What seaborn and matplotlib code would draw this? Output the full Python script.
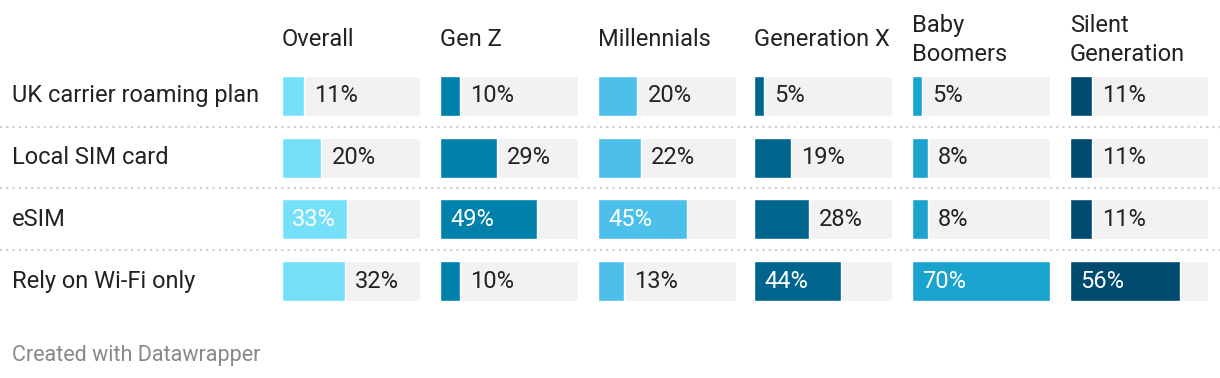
import numpy as np
import pandas as pd
import matplotlib.pyplot as plt
import seaborn as sns

# Data

options = ["UK carrier roaming plan", "Local SIM card", "eSIM", "Rely on Wi-Fi only"]
groups = ["Overall", "Gen Z", "Millennials", "Generation X", "Baby\nBoomers", "Silent\nGeneration"]

overall = [11, 20, 33, 32]
gen_z = [10, 29, 49, 10]
millennials = [20, 22, 45, 13]
gen_x = [5, 19, 28, 44]
boomers = [5, 8, 8, 70]
silent = [11, 11, 11, 56]

colors = ["#76e0fb", "#0081ab", "#4cc0eb", "#00668e", "#1aa3cf", "#00496f"]

series = [overall, gen_z, millennials, gen_x, boomers, silent]

sns.set_theme(style="white")
plt.rcParams["font.family"] = ["Roboto", "DejaVu Sans"]

W, H = 1220, 378
fig = plt.figure(figsize=(W / 100, H / 100), dpi=100)

domain = max(max(s) for s in series)
fs = 17

# Row geometry (pixels)
row_top, row_bottom = 65, 312
col_left = [282, 440, 598, 754, 912, 1070]
col_w = 138
n = len(options)

# Background axes for row labels and separators
bg = fig.add_axes([0, 1 - row_bottom / H, 1, (row_bottom - row_top) / H])
bg.set_xlim(0, W)
bg.set_ylim(n - 0.5, -0.5)
bg.axis("off")
for i in range(n - 1):
    bg.axhline(i + 0.5, color="#cccccc", linestyle=(0, (1, 2)), linewidth=1.5)
for i, opt in enumerate(options):
    bg.text(12, i, opt, ha="left", va="center", fontsize=fs, color="#222222")

for j, (grp, vals, c) in enumerate(zip(groups, series, colors)):
    ax = fig.add_axes([col_left[j] / W, 1 - row_bottom / H, col_w / W, (row_bottom - row_top) / H])
    df = pd.DataFrame({"option": options, "value": vals, "track": [domain] * n})
    sns.barplot(data=df, x="track", y="option", orient="h", color="#f2f2f2",
                width=0.645, ax=ax, saturation=1)
    sns.barplot(data=df, x="value", y="option", orient="h", color=c,
                width=0.645, ax=ax, saturation=1)
    ax.set_xlim(0, domain)
    ax.set_ylim(n - 0.5, -0.5)
    ax.axis("off")
    pad = 10 / col_w * domain
    for i, v in enumerate(vals):
        if v >= 33:
            ax.text(pad, i, f"{v}%", ha="left", va="center", fontsize=fs, color="white")
        else:
            ax.text(v + pad, i, f"{v}%", ha="left", va="center", fontsize=fs, color="#222222")
    fig.text(col_left[j] / W, 1 - 40 / H, grp, ha="left", va="center",
             fontsize=fs, color="#222222", linespacing=1.3)

fig.text(12 / W, 1 - 361 / H, "Created with Datawrapper", ha="left", va="baseline",
         fontsize=15.5, color="#888888")

plt.savefig("out.png", dpi=100)
